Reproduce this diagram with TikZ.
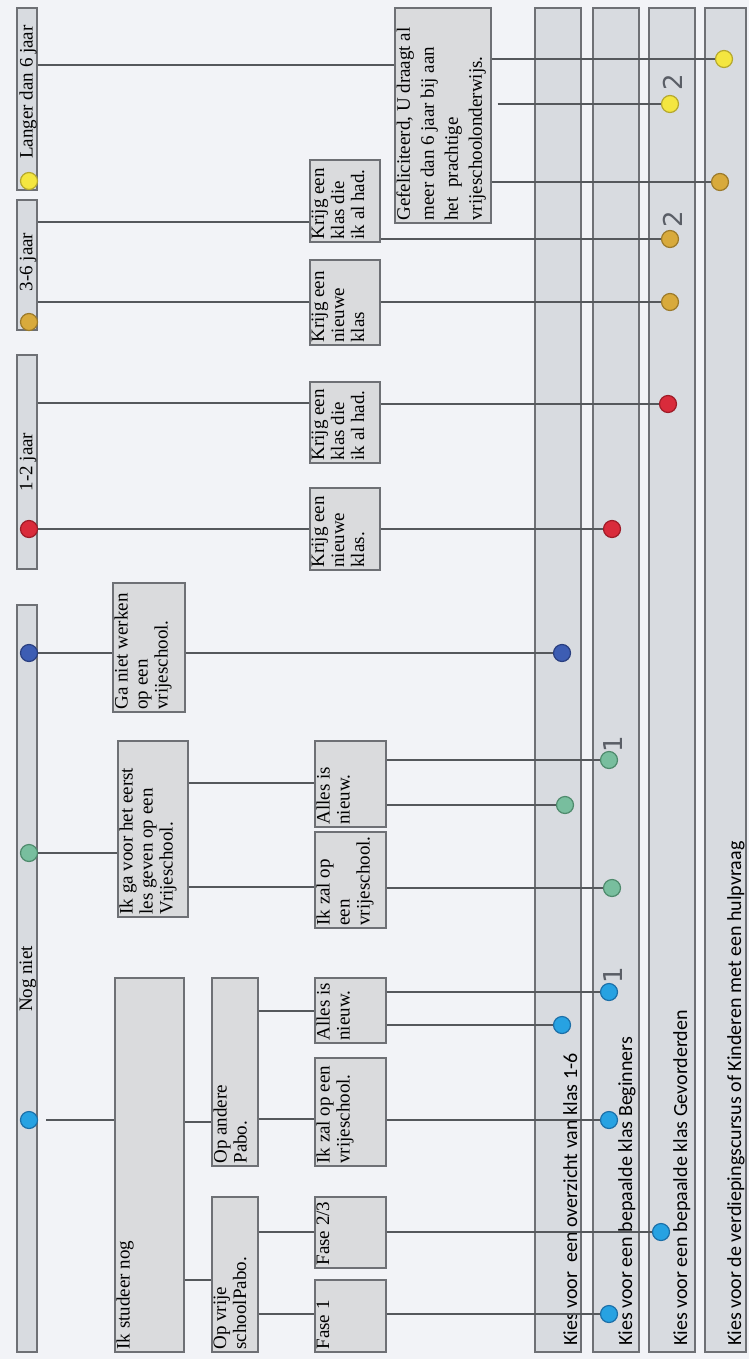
\documentclass[tikz,border=0pt]{standalone}
\usepackage{fontspec}
\setmainfont{Liberation Serif}
\newfontfamily\lanefont{Carlito}
\newfontfamily\digfont{DejaVu Sans}
\usetikzlibrary{calc}

\definecolor{bg}{HTML}{F2F3F7}
\definecolor{boxfill}{HTML}{DADBDD}
\definecolor{lanefill}{HTML}{D8DBE0}
\definecolor{edge}{HTML}{6E7075}
\definecolor{wire}{HTML}{55585C}
\definecolor{numcol}{HTML}{5A5E66}
\definecolor{cLB}{HTML}{27A2E2}\definecolor{dLB}{HTML}{1C6FA8}
\definecolor{cDB}{HTML}{3D5DB3}\definecolor{dDB}{HTML}{2A3F80}
\definecolor{cGR}{HTML}{78BE9E}\definecolor{dGR}{HTML}{4E8A6C}
\definecolor{cRD}{HTML}{D92B3B}\definecolor{dRD}{HTML}{9E1C28}
\definecolor{cOC}{HTML}{D8AA3C}\definecolor{dOC}{HTML}{9C7A2A}
\definecolor{cYE}{HTML}{F4E640}\definecolor{dYE}{HTML}{B5A82E}

\newcommand{\boxfont}{\fontsize{19}{20}\selectfont}
\newcommand{\bx}[6]{%
  \node[boxst] (#1) at ({(#2+#4)/2},{(#3+#5)/2})
   {\parbox[c][\dimexpr #4pt-#2pt-3pt\relax][t]{\dimexpr #5pt-#3pt-5pt\relax}{\raggedright\boxfont #6}};}
\newcommand{\rc}[6]{%
  \node[#6, minimum width={(#4-#2)*1pt}, minimum height={(#5-#3)*1pt}] (#1) at ({(#2+#4)/2},{(#3+#5)/2}) {};}
\newcommand{\dt}[4]{\node[dot, fill=c#4, draw=d#4] (#1) at (#2,#3) {};}

\tikzset{
  boxst/.style={rotate=90, draw=edge, fill=boxfill, line width=1.2pt, inner xsep=2.5pt, inner ysep=1.5pt},
  barst/.style={draw=edge, fill=lanefill, line width=1.2pt, inner sep=0pt},
  lanest/.style={draw=edge, fill=lanefill, line width=1.2pt, inner sep=0pt},
  dot/.style={circle, minimum size=17pt, inner sep=0pt, line width=1.2pt},
  wirest/.style={draw=wire, line width=1.3pt},
  bartxt/.style={rotate=90, inner sep=0pt, font=\fontsize{19}{20}\selectfont},
  lanetxt/.style={rotate=90, inner sep=0pt, anchor=base west, font=\lanefont\fontsize{20}{22}\selectfont},
  numtxt/.style={rotate=90, inner sep=0pt, text=numcol, font=\digfont\fontsize{26}{28}\selectfont}
}

\begin{document}
\begin{tikzpicture}[x=1pt, y=-1pt]
\fill[bg] (0,0) rectangle (749,1359);
\useasboundingbox (0,0) rectangle (749,1359);

% lanes
\rc{lane1}{535}{8}{581}{1352}{lanest}
\rc{lane2}{593}{8}{639}{1352}{lanest}
\rc{lane3}{649}{8}{695}{1352}{lanest}
\rc{lane4}{705}{8}{746}{1352}{lanest}
\node[lanetxt] (tl1) at (577,1346) {Kies voor\ \ een overzicht van klas 1-6};
\node[lanetxt] (tl2) at (632,1346) {Kies voor een bepaalde klas Beginners};
\node[lanetxt] (tl3) at (687,1346) {Kies voor een bepaalde klas Gevorderden};
\node[lanetxt] (tl4) at (741,1346) {Kies voor de verdiepingscursus of Kinderen met een hulpvraag};

% left bars
\rc{barL}{17}{8}{37}{190}{barst}
\rc{bar36}{17}{200}{37}{330}{barst}
\rc{bar12}{17}{355}{37}{569}{barst}
\rc{barN}{17}{605}{37}{1352}{barst}
\node[bartxt] (tL) at (28,92) {Langer dan 6 jaar};
\node[bartxt] (t36) at (28,262) {3-6 jaar};
\node[bartxt] (t12) at (28,462) {1-2 jaar};
\node[bartxt] (tN) at (28,979) {Nog niet};

% boxes
\bx{gef}{395}{8}{491}{223}{\fontsize{19}{24}\selectfont Gefeliciteerd, U draagt al\\ meer dan 6 jaar bij aan\\ het\ \ prachtige\\ vrijeschoolonderwijs.}
\bx{k3a}{310}{160}{380}{242}{Krijg een\\ klas die\\ ik al had.}
\bx{k3b}{310}{260}{380}{345}{Krijg een\\ nieuwe\\ klas}
\bx{k1a}{310}{382}{380}{463}{Krijg een\\ klas die\\ ik al had.}
\bx{k1b}{310}{488}{380}{570}{Krijg een\\ nieuwe\\ klas.}
\bx{ganiet}{113}{583}{185}{712}{Ga niet werken\\ op een\\ vrijeschool.}
\bx{ikga}{118}{741}{188}{917}{Ik ga voor het eerst\\ les geven op een\\ Vrijeschool.}
\bx{allesG}{315}{741}{386}{827}{Alles is\\ nieuw.}
\bx{ikzalG}{315}{832}{386}{928}{Ik zal op\\ een\\ vrijeschool.}
\bx{ikstud}{115}{978}{184}{1352}{Ik studeer nog}
\bx{opandere}{212}{978}{258}{1166}{Op andere\\ Pabo.}
\bx{opvrije}{212}{1197}{258}{1352}{Op vrije\\ schoolPabo.}
\bx{allesB}{315}{978}{386}{1043}{Alles is\\ nieuw.}
\bx{ikzalB}{315}{1058}{386}{1166}{Ik zal op een\\ vrijeschool.}
\bx{fase23}{315}{1197}{386}{1268}{Fase 2/3}
\bx{fase1}{315}{1280}{386}{1352}{Fase 1}

% dots (left)
\dt{yL}{29}{181}{YE}
\dt{o36}{29}{322}{OC}
\dt{r12}{29}{529}{RD}
\dt{dbN}{29}{653}{DB}
\dt{gN}{29}{853}{GR}
\dt{lbN}{29}{1120}{LB}

% dots (right)
\dt{y4}{724}{59}{YE}
\dt{y3}{670}{104}{YE}
\dt{o4}{720}{182}{OC}
\dt{o3a}{670}{239}{OC}
\dt{o3b}{670}{302}{OC}
\dt{r3}{668}{404}{RD}
\dt{r2}{612}{529}{RD}
\dt{db1}{562}{653}{DB}
\dt{g2a}{609}{760}{GR}
\dt{g1}{565}{805}{GR}
\dt{g2b}{612}{888}{GR}
\dt{lb2a}{609}{992}{LB}
\dt{lb1}{562}{1025}{LB}
\dt{lb2b}{609}{1120}{LB}
\dt{lb3}{661}{1232}{LB}
\dt{lb2c}{609}{1314}{LB}

% connectors left
\path[wirest] (barL.east |- 0,65) -- (gef.north |- 0,65);
\path[wirest] (bar36.east |- 0,222) -- (k3a.north |- 0,222);
\path[wirest] (bar36.east |- 0,302) -- (k3b.north |- 0,302);
\path[wirest] (bar12.east |- 0,403) -- (k1a.north |- 0,403);
\path[wirest] (r12) -- (k1b.north |- r12);
\path[wirest] (dbN) -- (ganiet.north |- dbN);
\path[wirest] (gN) -- (ikga.north |- gN);
\path[wirest] ([xshift=8pt]lbN.east) -- (ikstud.north |- lbN);
% middle
\path[wirest] (ikstud.south |- 0,1122) -- (opandere.north |- 0,1122);
\path[wirest] (ikstud.south |- 0,1280) -- (opvrije.north |- 0,1280);
\path[wirest] (opandere.south |- 0,1011) -- (allesB.north |- 0,1011);
\path[wirest] (opandere.south |- 0,1119) -- (ikzalB.north |- 0,1119);
\path[wirest] (opvrije.south |- 0,1232) -- (fase23.north |- 0,1232);
\path[wirest] (opvrije.south |- 0,1314) -- (fase1.north |- 0,1314);
\path[wirest] (ikga.south |- 0,783) -- (allesG.north |- 0,783);
\path[wirest] (ikga.south |- 0,887) -- (ikzalG.north |- 0,887);
% right
\path[wirest] (gef.south |- y4) -- (y4);
\path[wirest] ([xshift=6pt]gef.south |- y3) -- (y3);
\path[wirest] (gef.south |- o4) -- (o4);
\path[wirest] (k3a.south |- o3a) -- (o3a);
\path[wirest] (k3b.south |- o3b) -- (o3b);
\path[wirest] (k1a.south |- r3) -- (r3);
\path[wirest] (k1b.south |- r2) -- (r2);
\path[wirest] (ganiet.south |- db1) -- (db1);
\path[wirest] (allesG.south |- g2a) -- (g2a);
\path[wirest] (allesG.south |- g1) -- (g1);
\path[wirest] (ikzalG.south |- g2b) -- (g2b);
\path[wirest] (allesB.south |- lb2a) -- (lb2a);
\path[wirest] (allesB.south |- lb1) -- (lb1);
\path[wirest] (ikzalB.south |- lb2b) -- (lb2b);
\path[wirest] (fase23.south |- lb3) -- (lb3);
\path[wirest] (fase1.south |- lb2c) -- (lb2c);

% numbers
\node[numtxt] (n2a) at (673,82) {2};
\node[numtxt] (n2b) at (673,219) {2};
\node[numtxt] (n1a) at (613,744) {1};
\node[numtxt] (n1b) at (613,975) {1};
\end{tikzpicture}
\end{document}
